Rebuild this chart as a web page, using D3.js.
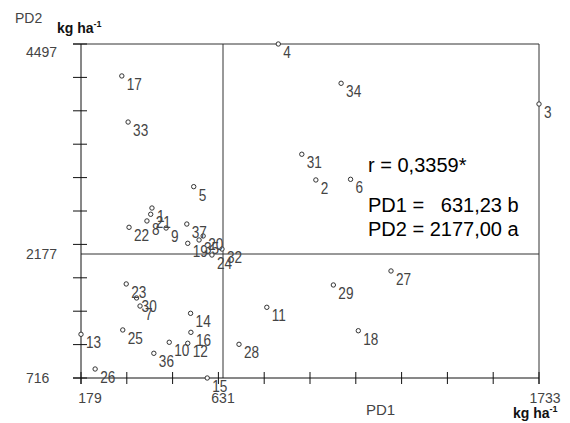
<!DOCTYPE html>
<html>
<head>
<meta charset="utf-8">
<script src="https://cdn.jsdelivr.net/npm/d3@7"></script>
<style>
  body { margin: 0; background: #fff; }
  text { font-family: Arial, "Liberation Sans", sans-serif; }
</style>
</head>
<body>
<div id="my_dataviz"></div>
<script>
'use strict';

// Genotypes and their yields (kg ha-1)
const ids = [1, 2, 3, 4, 5, 6, 7, 8, 9, 10, 11, 12, 13, 14, 15, 16, 17, 18, 19,
  20, 21, 22, 23, 24, 25, 26, 27, 28, 29, 30, 31, 32, 33, 34, 35, 36, 37];
const pd1 = [405, 955, 1733, 824, 538, 1076, 367, 389, 450, 460, 784, 519, 179, 528,
  581, 529, 309, 1103, 519, 568, 401, 332, 323, 596, 312, 224, 1217, 687, 1016, 356,
  906, 628, 329, 1043, 555, 411, 516];
const pd2 = [2685, 2995, 3834, 4497, 2921, 3002, 1564, 2542, 2464, 1137, 1549, 1125,
  1231, 1478, 716, 1254, 4144, 1273, 2295, 2376, 2616, 2472, 1824, 2165, 1282, 822,
  1977, 1113, 1812, 1659, 3279, 2232, 3635, 4063, 2332, 1007, 2508];

// min / mean / max of each axis
const pd1Stats = [179, 631.23, 1733];
const pd2Stats = [716, 2177, 4497];
const xTickLabels = ["179", "631", "1733"];
const yTickLabels = ["716", "2177", "4497"];
const statLines = ["r = 0,3359*", "PD1 =   631,23 b", "PD2 = 2177,00 a"];

const width = 570, height = 423;

const svg = d3.select("#my_dataviz")
  .append("svg")
  .attr("width", width)
  .attr("height", height);

// mean sits on the crosshair, so both scales break at the mean
const x = d3.scaleLinear().domain(pd1Stats).range([81, 223, 539]);
const y = d3.scaleLinear().domain(pd2Stats).range([378, 254, 44]);

// evenly spaced tick marks between min and max
const xTick = d3.scaleLinear().domain([0, 10]).range([x(pd1Stats[0]), x(pd1Stats[2])]);
const yTick = d3.scaleLinear().domain([0, 10]).range([y(pd2Stats[0]), y(pd2Stats[2])]);

const axisColor = "#111";
const x0 = x(pd1Stats[0]), x1 = x(pd1Stats[2]);
const y0 = y(pd2Stats[0]), y1 = y(pd2Stats[2]);

// frame: top and right
svg.append("line").attr("x1", x0 - 8).attr("x2", x1).attr("y1", y1).attr("y2", y1)
  .style("stroke", "#333");
svg.append("line").attr("x1", x1).attr("x2", x1).attr("y1", y1).attr("y2", y0 + 6)
  .style("stroke", "#333");

// crosshair at the means
svg.append("line").attr("x1", x(pd1Stats[1])).attr("x2", x(pd1Stats[1]))
  .attr("y1", y1).attr("y2", y0).style("stroke", "#333");
svg.append("line").attr("x1", x0).attr("x2", x1)
  .attr("y1", y(pd2Stats[1])).attr("y2", y(pd2Stats[1])).style("stroke", "#333");

// axes
svg.append("line").attr("x1", x0).attr("x2", x0).attr("y1", y1).attr("y2", y0 + 6)
  .style("stroke", axisColor);
svg.append("line").attr("x1", x0 - 8).attr("x2", x1).attr("y1", y0).attr("y2", y0)
  .style("stroke", axisColor);

svg.append("g").selectAll("line")
  .data(d3.range(11))
  .enter()
  .append("line")
  .attr("x1", d => xTick(d)).attr("x2", d => xTick(d))
  .attr("y1", y0 - 6).attr("y2", y0 + 6)
  .style("stroke", axisColor);

svg.append("g").selectAll("line")
  .data(d3.range(11))
  .enter()
  .append("line")
  .attr("x1", x0 - 8).attr("x2", x0 + 6)
  .attr("y1", d => yTick(d)).attr("y2", d => yTick(d))
  .style("stroke", axisColor);

// axis value labels
svg.append("g").selectAll("text")
  .data(xTickLabels)
  .enter()
  .append("text")
  .attr("x", (d, i) => x(pd1Stats[i]) + [9, 0, 6][i])
  .attr("y", 403)
  .attr("text-anchor", "middle")
  .style("font-size", "14px")
  .style("fill", "#444")
  .text(d => d);

svg.append("g").selectAll("text")
  .data(yTickLabels)
  .enter()
  .append("text")
  .attr("x", 26)
  .attr("y", (d, i) => y(pd2Stats[i]) + [5, 5, 13][i])
  .style("font-size", "14px")
  .style("fill", "#444")
  .text(d => d);

// axis titles
svg.append("text").attr("x", 15).attr("y", 23)
  .style("font-size", "14px").style("fill", "#444").text("PD2");
svg.append("text").attr("x", 366).attr("y", 415)
  .style("font-size", "15px").style("fill", "#444").text("PD1");

const unit = (tx, ty) => {
  let t = svg.append("text").attr("x", tx).attr("y", ty)
    .style("font-size", "14px").style("font-weight", "bold").style("fill", "#111");
  t.append("tspan").text("kg ha");
  t.append("tspan").attr("dy", -6).style("font-size", "9px").text("-1");
};
unit(57, 33);
unit(513, 418);

// points
const points = ids.map((id, i) => ({ id: id, pd1: pd1[i], pd2: pd2[i] }));

svg.append("g").selectAll("circle")
  .data(points)
  .enter()
  .append("circle")
  .attr("cx", d => x(d.pd1))
  .attr("cy", d => y(d.pd2))
  .attr("r", 2.2)
  .style("fill", "#fff")
  .style("stroke", "#333")
  .style("stroke-width", 1);

svg.append("g").selectAll("text")
  .data(points)
  .enter()
  .append("text")
  .attr("transform", d => "translate(" + (x(d.pd1) + 5) + "," + (y(d.pd2) + 14) + ") scale(0.85,1)")
  .style("font-size", "16px")
  .style("fill", "#444")
  .text(d => d.id);

// correlation and means
svg.append("g").selectAll("text")
  .data(statLines)
  .enter()
  .append("text")
  .attr("x", 368)
  .attr("y", (d, i) => [172, 212, 236][i])
  .style("font-size", "20px")
  .style("fill", "#000")
  .style("white-space", "pre")
  .text(d => d);
</script>
</body>
</html>
